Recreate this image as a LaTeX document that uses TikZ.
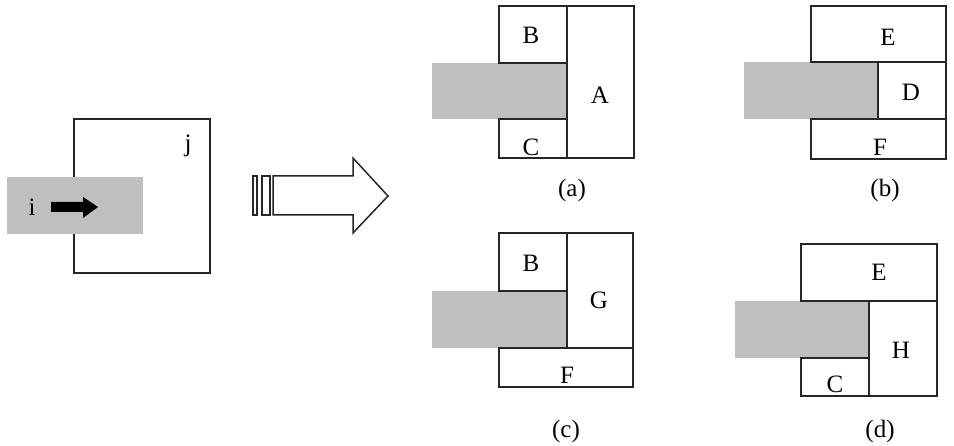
\documentclass[tikz,border=0pt]{standalone}
\usepackage{fontspec}
\setmainfont{Liberation Serif}
\begin{document}
\begin{tikzpicture}[x=1pt,y=-1pt,
  box/.style={draw=black!85,line width=1.5pt},
  shade/.style={fill=black!25},
  lbl/.style={inner sep=0pt,font=\fontsize{25}{28}\selectfont}]
\useasboundingbox (0,0) rectangle (954,446);
% left figure
\draw[box] (74,119) rectangle (210,273);
\fill[shade] (7,177) rectangle (143,234);
\node[lbl] (i) at (32,207) {i};
\node[lbl] (j) at (188,146) {j};
\fill[black] (51,202) -- (83,202) -- (83,197) -- (98,207) -- (83,218) -- (83,212) -- (51,212) -- cycle;
% hollow arrow
\draw[box,line join=miter] (273,176) -- (353,176) -- (353,158) -- (388,196) -- (353,233) -- (353,215) -- (273,215) -- cycle;
\draw[box] (253,176) rectangle (257,215);
\draw[box] (262,176) rectangle (270,215);
% (a)
\fill[shade] (432,63) rectangle (567,119);
\draw[box] (499,6) rectangle (567,63);
\draw[box] (499,119) rectangle (567,158);
\draw[box] (567,6) rectangle (634,158);
\node[lbl] (aB) at (531,35) {B};
\node[lbl] (aA) at (600,95) {A};
\node[lbl] (aC) at (531,147) {C};
\node[lbl] (la) at (572,190) {(a)};
% (b)
\fill[shade] (744,62) rectangle (878,119);
\draw[box] (811,6) rectangle (946,62);
\draw[box] (878,62) rectangle (946,119);
\draw[box] (811,119) rectangle (946,159);
\node[lbl] (bE) at (888,37) {E};
\node[lbl] (bD) at (911,92) {D};
\node[lbl] (bF) at (880,147) {F};
\node[lbl] (lb) at (885,190) {(b)};
% (c)
\fill[shade] (432,291) rectangle (567,348);
\draw[box] (499,233) rectangle (567,291);
\draw[box] (567,233) rectangle (633,348);
\draw[box] (499,348) rectangle (633,387);
\node[lbl] (cB) at (531,263) {B};
\node[lbl] (cG) at (599,300) {G};
\node[lbl] (cF) at (567,375) {F};
\node[lbl] (lc) at (566,431) {(c)};
% (d)
\fill[shade] (735,301) rectangle (869,358);
\draw[box] (801,244) rectangle (937,301);
\draw[box] (869,301) rectangle (937,396);
\draw[box] (801,358) rectangle (869,396);
\node[lbl] (dE) at (879,272) {E};
\node[lbl] (dH) at (901,350) {H};
\node[lbl] (dC) at (835,384) {C};
\node[lbl] (ld) at (880,431) {(d)};
\end{tikzpicture}
\end{document}
